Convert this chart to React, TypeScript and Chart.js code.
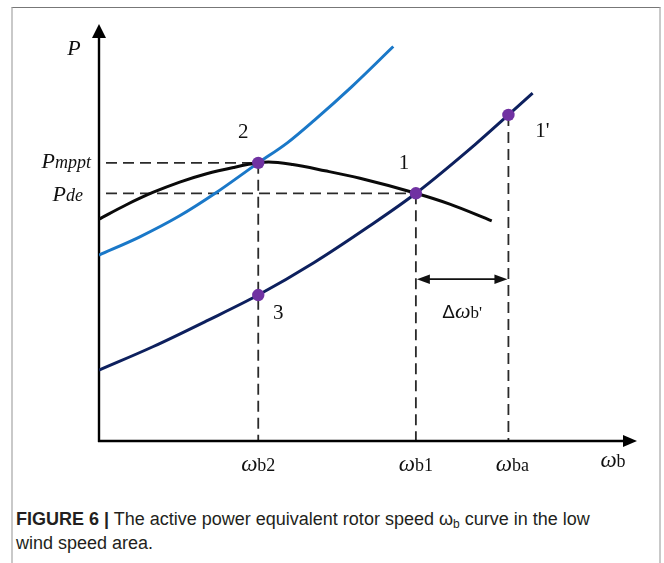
import { useEffect, useRef } from "react";
import { Chart, registerables } from "chart.js";

Chart.register(...registerables);

// Turbine power curve at the current wind speed (black)
const windCurveSpeed = [0, 0.5, 1.0, 1.5, 2.0, 2.5, 2.96, 3.15, 3.6, 4.2, 4.85, 5.89, 6.52, 7.3];
const windCurvePower = [5.32, 5.66, 5.96, 6.21, 6.41, 6.56, 6.67, 6.69, 6.63, 6.48, 6.3, 5.94, 5.68, 5.28];

// MPPT tracking curve (light blue)
const mpptCurveSpeed = [0, 0.75, 1.5, 2.16, 2.96, 3.5, 4.0, 4.7, 5.47];
const mpptCurvePower = [4.46, 4.89, 5.4, 5.94, 6.67, 7.15, 7.69, 8.5, 9.46];

// Deloaded operating curve (navy)
const deloadCurveSpeed = [0, 1, 2, 2.96, 4, 5, 5.89, 7, 7.61, 8.06];
const deloadCurvePower = [1.7, 2.26, 2.88, 3.5, 4.28, 5.13, 5.94, 7.12, 7.82, 8.34];

// Operating points
const pointNames = ["2", "1", "1'", "3"];
const pointSpeeds = [2.96, 5.89, 7.61, 2.96];
const pointPowers = [6.67, 5.94, 7.82, 3.5];

// Rotor speed tick labels (ω + subscript)
const speedTickValues = [2.96, 5.89, 7.61];
const speedTickSubs = ["b2", "b1", "ba"];

// Power level labels (P + subscript)
const powerLevelValues = [6.67, 5.94];
const powerLevelSubs = ["mppt", "de"];

// Height of the Δω arrow between ωb1 and ωba
const deltaArrowPower = 3.88;

const SERIF = '"Liberation Serif", "DejaVu Serif", serif';
const SANS = '"Liberation Sans", Arial, sans-serif';

type Part = { text: string; font: string };

function drawParts(
  ctx: CanvasRenderingContext2D,
  parts: Part[],
  x: number,
  y: number,
  align: "left" | "center" | "right"
) {
  ctx.textAlign = "left";
  ctx.textBaseline = "alphabetic";
  const widths = parts.map((p) => {
    ctx.font = p.font;
    return ctx.measureText(p.text).width;
  });
  const total = widths.reduce((a, b) => a + b, 0);
  let cx = align === "left" ? x : align === "center" ? x - total / 2 : x - total;
  parts.forEach((p, i) => {
    ctx.font = p.font;
    ctx.fillText(p.text, cx, y);
    cx += widths[i];
  });
}

function arrowHead(
  ctx: CanvasRenderingContext2D,
  tipX: number,
  tipY: number,
  dirX: number,
  dirY: number,
  len: number,
  half: number
) {
  const bx = tipX - dirX * len;
  const by = tipY - dirY * len;
  const nx = -dirY;
  const ny = dirX;
  ctx.beginPath();
  ctx.moveTo(tipX, tipY);
  ctx.lineTo(bx + nx * half, by + ny * half);
  ctx.lineTo(bx - nx * half, by - ny * half);
  ctx.closePath();
  ctx.fill();
}

// label placement around each operating point, in pixels
const pointLabelOffsets = [
  [-15, -25],
  [-12, -24],
  [34, 22],
  [20, 24],
];
const tickLabelShift = [0, 0, 4];

const figurePlugin = {
  id: "figureMarks",
  beforeDatasetsDraw(chart: any) {
    const { ctx, chartArea } = chart;
    const xs = chart.scales.x;
    const ys = chart.scales.y;
    const x0 = xs.getPixelForValue(0);
    const y0 = ys.getPixelForValue(0);

    ctx.save();
    // dashed guide lines
    ctx.strokeStyle = "#2a2a2a";
    ctx.lineWidth = 1.8;
    ctx.setLineDash([11, 6]);
    [0, 1].forEach((i) => {
      const py = ys.getPixelForValue(powerLevelValues[i]);
      ctx.beginPath();
      ctx.moveTo(x0 + 7, py);
      ctx.lineTo(xs.getPixelForValue(pointSpeeds[i]), py);
      ctx.stroke();
    });
    [0, 1, 2].forEach((i) => {
      const px = xs.getPixelForValue(pointSpeeds[i]);
      ctx.beginPath();
      ctx.moveTo(px, ys.getPixelForValue(pointPowers[i]));
      ctx.lineTo(px, y0);
      ctx.stroke();
    });
    ctx.setLineDash([]);

    // axes with arrows
    ctx.strokeStyle = "#000";
    ctx.fillStyle = "#000";
    ctx.lineWidth = 2.4;
    ctx.beginPath();
    ctx.moveTo(x0, y0 + 1);
    ctx.lineTo(x0, chartArea.top + 10);
    ctx.moveTo(x0 - 1, y0);
    ctx.lineTo(chartArea.right - 10, y0);
    ctx.stroke();
    arrowHead(ctx, x0, chartArea.top, 0, -1, 14, 7);
    arrowHead(ctx, chartArea.right, y0, 1, 0, 14, 6);
    ctx.restore();
  },
  afterDatasetsDraw(chart: any) {
    const { ctx } = chart;
    const xs = chart.scales.x;
    const ys = chart.scales.y;
    const x0 = xs.getPixelForValue(0);
    const y0 = ys.getPixelForValue(0);

    ctx.save();
    ctx.fillStyle = "#111";
    ctx.strokeStyle = "#111";

    // Δω arrow between ωb1 and ωba
    const ax1 = xs.getPixelForValue(speedTickValues[1]);
    const ax2 = xs.getPixelForValue(speedTickValues[2]);
    const ay = ys.getPixelForValue(deltaArrowPower);
    ctx.lineWidth = 1.8;
    ctx.beginPath();
    ctx.moveTo(ax1 + 8, ay);
    ctx.lineTo(ax2 - 8, ay);
    ctx.stroke();
    arrowHead(ctx, ax1 + 1, ay, -1, 0, 13, 4.8);
    arrowHead(ctx, ax2 - 1, ay, 1, 0, 13, 4.8);
    drawParts(
      ctx,
      [
        { text: "Δ", font: `19px ${SANS}` },
        { text: "ω", font: `italic 22px ${SERIF}` },
        { text: "b'", font: `17px ${SERIF}` },
      ],
      (ax1 + ax2) / 2,
      ay + 39,
      "center"
    );

    // axis titles
    drawParts(ctx, [{ text: "P", font: `italic 22px ${SERIF}` }], x0 - 25, 55, "center");
    drawParts(
      ctx,
      [
        { text: "ω", font: `italic 23px ${SERIF}` },
        { text: "b", font: `18px ${SERIF}` },
      ],
      613,
      y0 + 26,
      "center"
    );

    // power level labels
    powerLevelValues.forEach((v, i) => {
      const py = ys.getPixelForValue(v);
      drawParts(
        ctx,
        [
          { text: "P", font: `italic 22px ${SERIF}` },
          { text: powerLevelSubs[i], font: `italic 18px ${SERIF}` },
        ],
        i === 0 ? x0 - 8 : x0 - 16,
        i === 0 ? py + 5 : py + 8,
        "right"
      );
    });

    // rotor speed tick labels
    speedTickValues.forEach((v, i) => {
      drawParts(
        ctx,
        [
          { text: "ω", font: `italic 23px ${SERIF}` },
          { text: speedTickSubs[i], font: `18px ${SERIF}` },
        ],
        xs.getPixelForValue(v) + tickLabelShift[i],
        y0 + 30,
        "center"
      );
    });

    // operating point numbers
    pointNames.forEach((name, i) => {
      const px = xs.getPixelForValue(pointSpeeds[i]);
      const py = ys.getPixelForValue(pointPowers[i]);
      drawParts(
        ctx,
        [{ text: name, font: `21px ${SERIF}` }],
        px + pointLabelOffsets[i][0],
        py + pointLabelOffsets[i][1],
        "center"
      );
    });
    ctx.restore();
  },
};

function toXY(xs: number[], ys: number[]) {
  return xs.map((x, i) => ({ x, y: ys[i] }));
}

function PowerSpeedChart() {
  const canvasRef = useRef<HTMLCanvasElement | null>(null);

  useEffect(() => {
    const canvas = canvasRef.current;
    if (!canvas) return;
    const lineStyle = {
      type: "line" as const,
      showLine: true,
      pointRadius: 0,
      borderWidth: 3,
      cubicInterpolationMode: "monotone" as const,
      fill: false,
    };
    const chart = new Chart(canvas, {
      type: "scatter",
      data: {
        datasets: [
          {
            label: "points",
            data: toXY(pointSpeeds, pointPowers),
            pointRadius: 6.2,
            pointBackgroundColor: "#7032a2",
            pointBorderWidth: 0,
            showLine: false,
          },
          {
            ...lineStyle,
            label: "wind",
            data: toXY(windCurveSpeed, windCurvePower),
            borderColor: "#0a0a0a",
          },
          {
            ...lineStyle,
            label: "mppt",
            data: toXY(mpptCurveSpeed, mpptCurvePower),
            borderColor: "#1a78c8",
          },
          {
            ...lineStyle,
            label: "deload",
            data: toXY(deloadCurveSpeed, deloadCurvePower),
            borderColor: "#0d205e",
          },
        ],
      } as any,
      options: {
        animation: false,
        responsive: false,
        devicePixelRatio: 1,
        layout: { padding: { left: 99, right: 27, top: 24, bottom: 39 } },
        scales: {
          x: { type: "linear", min: 0, max: 10, display: false },
          y: { type: "linear", min: 0, max: 10, display: false },
        },
        plugins: {
          legend: { display: false },
          tooltip: { enabled: false },
        },
        events: [],
      },
      plugins: [figurePlugin],
    });
    return () => chart.destroy();
  }, []);

  return (
    <canvas
      ref={canvasRef}
      width={664}
      height={480}
      style={{ position: "absolute", left: 0, top: 0, width: 664, height: 480 }}
    />
  );
}

export default function App() {
  return (
    <div
      style={{
        position: "absolute",
        left: 0,
        top: 0,
        width: 664,
        height: 563,
        overflow: "hidden",
        background: "#fff",
      }}
    >
      <div
        style={{
          position: "absolute",
          left: 11,
          top: 7,
          width: 646,
          height: 600,
          borderTop: "1px solid #777",
          borderLeft: "2px solid #c9c9c9",
          borderRight: "2px solid #c9c9c9",
        }}
      />
      <PowerSpeedChart />
      <div
        style={{
          position: "absolute",
          left: 16,
          top: 507,
          fontFamily: SANS,
          fontSize: 18,
          lineHeight: "24px",
          color: "#231f20",
          whiteSpace: "nowrap",
        }}
      >
        <b>FIGURE 6 |</b> The active power equivalent rotor speed ω
        <sub style={{ fontSize: 12, verticalAlign: "-3px", lineHeight: 0 }}>b</sub> curve in the
        low
        <br />
        wind speed area.
      </div>
    </div>
  );
}
